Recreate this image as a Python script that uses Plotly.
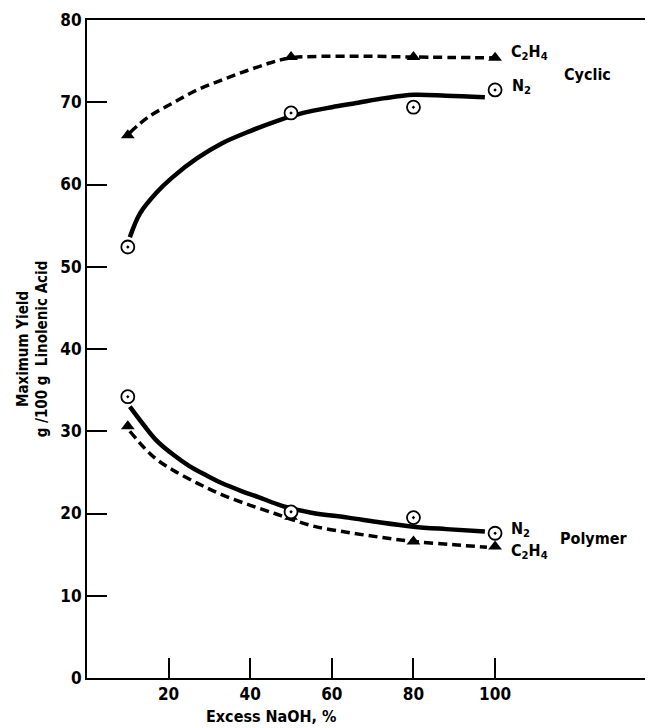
import plotly.graph_objects as go

# ---- data ----
naoh = [10, 50, 80, 100]
cyc_c2h4 = [66.0, 75.5, 75.5, 75.4]
cyc_n2 = [52.4, 68.7, 69.4, 71.5]
pol_n2 = [34.2, 20.2, 19.5, 17.6]
pol_c2h4 = [30.6, 19.6, 16.6, 16.0]

# fitted (hand-drawn) curves
cyc_c2h4_cx = [10.5, 15, 21, 27, 33, 39, 45, 50, 65, 80, 100]
cyc_c2h4_cy = [66.3, 68.2, 69.9, 71.5, 72.7, 73.8, 74.8, 75.4, 75.6, 75.5, 75.4]
cyc_n2_cx = [10.5, 13, 17, 21, 27, 33, 40, 47, 53, 60, 66, 73, 80, 88, 97.5]
cyc_n2_cy = [53.6, 56.5, 59.0, 60.9, 63.2, 65.0, 66.5, 67.8, 68.7, 69.4, 69.9, 70.5, 70.9, 70.8, 70.6]
pol_n2_cx = [10.5, 14, 17, 21, 25, 29, 33, 38, 42, 48, 55, 64, 72, 80, 88, 97.5]
pol_n2_cy = [33.0, 30.7, 28.9, 27.2, 25.8, 24.7, 23.7, 22.7, 22.0, 20.9, 20.1, 19.5, 18.9, 18.4, 18.1, 17.8]
pol_c2h4_cx = [10.5, 14, 17, 21, 27, 33, 40, 46, 50, 56, 64, 72, 80, 90, 98]
pol_c2h4_cy = [30.0, 28.0, 26.6, 25.3, 23.7, 22.3, 21.0, 20.0, 19.3, 18.4, 17.7, 17.1, 16.6, 16.2, 15.9]

x_ticks = [20, 40, 60, 80, 100]
y_ticks = [0, 10, 20, 30, 40, 50, 60, 70, 80]

FONT = "DejaVu Sans Condensed, Liberation Sans Narrow, Arial Narrow, sans-serif"

fig = go.Figure()

def curve(xs, ys, dashed):
    fig.add_trace(go.Scatter(
        x=xs, y=ys, mode="lines", line_shape="spline",
        line=dict(color="black", width=3.5 if dashed else 4.5,
                  dash="9px,5px" if dashed else "solid"),
        hoverinfo="skip", showlegend=False))

curve(cyc_c2h4_cx, cyc_c2h4_cy, True)
curve(cyc_n2_cx, cyc_n2_cy, False)
curve(pol_n2_cx, pol_n2_cy, False)
curve(pol_c2h4_cx, pol_c2h4_cy, True)

def tri(ys):
    fig.add_trace(go.Scatter(
        x=naoh, y=ys, mode="markers",
        marker=dict(symbol="triangle-up", size=12, color="black"),
        showlegend=False))

def circ(ys):
    fig.add_trace(go.Scatter(
        x=naoh, y=ys, mode="markers",
        marker=dict(symbol="circle-dot", size=13, color="white",
                    line=dict(color="black", width=1.8)),
        showlegend=False))

tri(cyc_c2h4)
tri(pol_c2h4)
circ(cyc_n2)
circ(pol_n2)

def label(text, x, y, size=16, xanchor="left"):
    fig.add_annotation(x=x, y=y, xref="x", yref="y", text=text, showarrow=False,
                       xanchor=xanchor, yanchor="middle",
                       font=dict(family=FONT, size=size, color="black", weight="bold"))

label("C<sub>2</sub>H<sub>4</sub>", 103.3, 76.0)
label("Cyclic", 116.5, 73.4)
label("N<sub>2</sub>", 103.6, 71.9)
label("N<sub>2</sub>", 103.3, 18.1)
label("C<sub>2</sub>H<sub>4</sub>", 103.3, 15.4)
label("Polymer", 115.5, 17.0)

fig.add_annotation(x=45.3, y=0, xref="x", yref="paper", yshift=-38,
                   text="Excess NaOH, %", showarrow=False,
                   xanchor="center", yanchor="middle",
                   font=dict(family=FONT, size=16, color="black", weight="bold"))

# page body has an 8px margin, so the figure is 8px smaller than the window
fig.update_layout(
    width=645, height=720,
    margin=dict(l=79, r=0, t=12, b=50),
    plot_bgcolor="white", paper_bgcolor="white",
    font=dict(family=FONT, color="black"),
)
fig.update_xaxes(
    range=[0, 138.7], tickvals=x_ticks, ticktext=[str(v) for v in x_ticks],
    ticks="inside", ticklen=20, tickwidth=2, tickcolor="black",
    showline=True, linecolor="black", linewidth=2, mirror=True,
    showgrid=False, zeroline=False,
    tickfont=dict(family=FONT, size=17, color="black", weight="bold"),
)
fig.update_yaxes(
    range=[0, 80], tickvals=y_ticks, ticktext=[str(v) for v in y_ticks],
    ticks="inside", ticklen=20, tickwidth=2, tickcolor="black",
    showline=True, linecolor="black", linewidth=2,
    showgrid=False, zeroline=False,
    tickfont=dict(family=FONT, size=17, color="black", weight="bold"),
    title=dict(text="Maximum Yield<br>g /100 g  Linolenic Acid", standoff=9,
               font=dict(family=FONT, size=15, color="black", weight="bold")),
)

fig.write_html("out.html")
